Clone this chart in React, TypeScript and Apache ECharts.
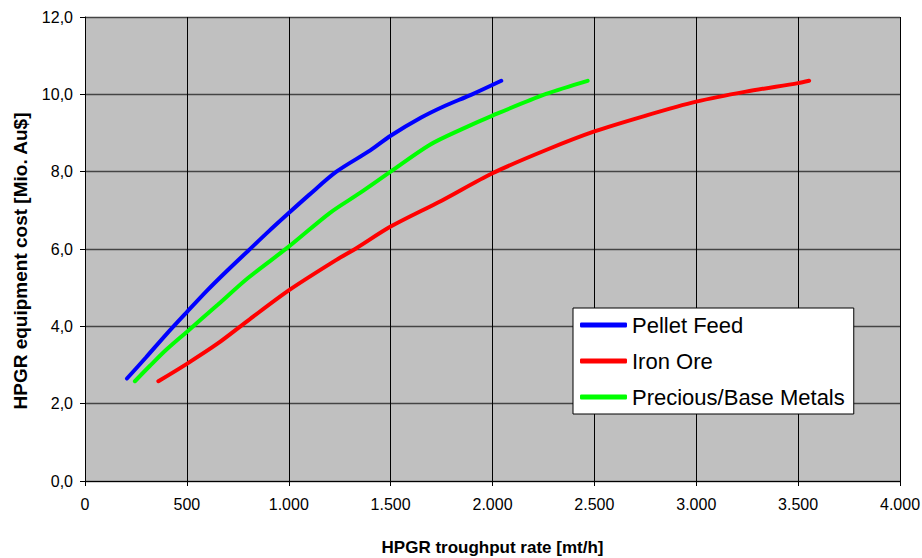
import React, { useEffect, useRef } from "react";
import * as echarts from "echarts";

const seriesNames = ["Pellet Feed", "Iron Ore", "Precious/Base Metals"];
const seriesColors = ["#0000ff", "#ff0000", "#00ff00"];

const pelletFeedX = [206, 300, 400, 500, 600, 700, 800, 900, 1000, 1100, 1234, 1400, 1500, 1650, 1757, 1900, 2043];
const pelletFeedY = [2.65, 3.2, 3.8, 4.37, 4.93, 5.45, 5.95, 6.45, 6.93, 7.4, 8.0, 8.55, 8.93, 9.4, 9.68, 10.0, 10.35];

const ironOreX = [360, 500, 650, 800, 1000, 1234, 1332, 1500, 1750, 2000, 2263, 2500, 2753, 3000, 3244, 3500, 3554];
const ironOreY = [2.58, 3.03, 3.55, 4.15, 4.93, 5.72, 6.02, 6.58, 7.25, 7.96, 8.56, 9.04, 9.45, 9.81, 10.07, 10.29, 10.35];

const metalsX = [245, 319, 400, 498, 650, 800, 1000, 1201, 1350, 1500, 1691, 1850, 2000, 2263, 2467];
const metalsY = [2.58, 2.98, 3.4, 3.85, 4.55, 5.25, 6.06, 6.93, 7.45, 8.0, 8.69, 9.1, 9.45, 10.01, 10.35];

const yTicks = [0, 2, 4, 6, 8, 10, 12];
const xTicks = [0, 500, 1000, 1500, 2000, 2500, 3000, 3500, 4000];
const xTitle = "HPGR troughput rate [mt/h]";
const yTitle = "HPGR equipment cost [Mio. Au$]";

const zip = (xs: number[], ys: number[]) => xs.map((x, i) => [x, ys[i]]);

export default function App() {
  const ref = useRef<HTMLDivElement>(null);
  useEffect(() => {
    if (!ref.current) return;
    const chart = echarts.init(ref.current, null, { renderer: "svg" });
    const font = "Liberation Sans, Arial, sans-serif";
    const data = [zip(pelletFeedX, pelletFeedY), zip(ironOreX, ironOreY), zip(metalsX, metalsY)];
    chart.setOption({
      animation: false,
      backgroundColor: "#ffffff",
      grid: {
        left: 85,
        right: 22,
        top: 17,
        bottom: 77,
        show: true,
        backgroundColor: "#c0c0c0",
        borderWidth: 0,
        outerBoundsMode: "none",
        containLabel: false,
      },
      graphic: [
        {
          type: "text",
          x: 20,
          y: 261,
          rotation: Math.PI / 2,
          style: {
            text: yTitle,
            fontFamily: font,
            fontSize: 19,
            fontWeight: "bold",
            fill: "#000",
            align: "center",
            verticalAlign: "middle",
          },
        },
      ],
      xAxis: {
        type: "value",
        min: xTicks[0],
        max: xTicks[xTicks.length - 1],
        interval: 500,
        name: xTitle,
        nameLocation: "middle",
        nameGap: 58,
        nameTextStyle: { fontFamily: font, fontSize: 17, fontWeight: "bold", color: "#000" },
        axisLine: { show: true, lineStyle: { color: "#000", width: 1 } },
        axisTick: { show: true, length: 5, lineStyle: { color: "#000" } },
        axisLabel: {
          fontFamily: font,
          fontSize: 16,
          color: "#000",
          margin: 15,
          formatter: (v: number) => v.toLocaleString("de-DE"),
        },
        splitLine: { show: true, lineStyle: { color: "#000", width: 1 } },
      },
      yAxis: {
        type: "value",
        min: yTicks[0],
        max: yTicks[yTicks.length - 1],
        interval: 2,
        axisLine: { show: true, lineStyle: { color: "#000", width: 1 } },
        axisTick: { show: true, length: 5, lineStyle: { color: "#000" } },
        axisLabel: {
          fontFamily: font,
          fontSize: 16,
          color: "#000",
          margin: 12,
          formatter: (v: number) => v.toFixed(1).replace(".", ","),
        },
        splitLine: { show: true, lineStyle: { color: "#444", width: 1.3 } },
      },
      legend: {
        orient: "vertical",
        left: 573,
        top: 308,
        backgroundColor: "#ffffff",
        borderColor: "#000",
        borderWidth: 1,
        borderRadius: 0,
        padding: [6, 9, 6, 7],
        itemGap: 14,
        itemWidth: 47,
        itemHeight: 5,
        icon: "roundRect",
        textStyle: { fontFamily: font, fontSize: 22, color: "#000" },
        data: seriesNames,
      },
      series: seriesNames.map((name, i) => ({
        name,
        type: "line",
        data: data[i],
        smooth: 0.3,
        showSymbol: false,
        color: seriesColors[i],
        lineStyle: { color: seriesColors[i], width: 4, cap: "round" },
      })),
    });
    return () => chart.dispose();
  }, []);
  return (
    <div
      ref={ref}
      style={{ position: "absolute", left: 0, top: 0, width: 922, height: 558 }}
    />
  );
}
